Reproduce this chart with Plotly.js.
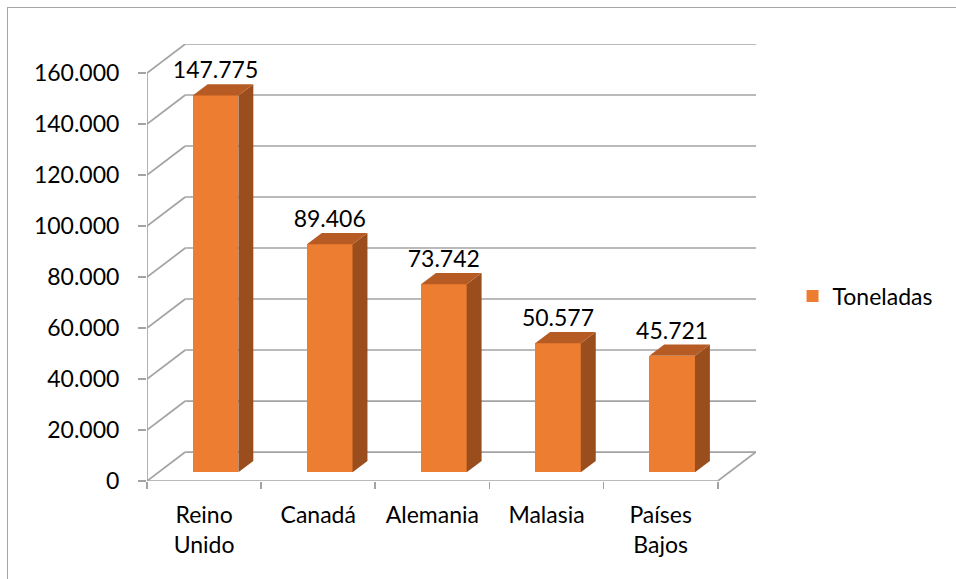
<!DOCTYPE html>
<html><head><meta charset="utf-8">
<script src="https://cdn.plot.ly/plotly-3.0.1.min.js"></script>
<style>
html,body{margin:0;padding:0;background:#fff;overflow:hidden;}
#chart{width:956px;height:579px;}
#frame{position:absolute;left:7px;top:7px;width:1000px;height:700px;border:1px solid #a6a6a6;pointer-events:none;}
</style></head>
<body>
<div id="chart"></div>
<div id="frame"></div>
<script>
// ---- data ----
const categories = ['Reino<br>Unido', 'Canadá', 'Alemania', 'Malasia', 'Países<br>Bajos'];
const toneladas = [147775, 89406, 73742, 50577, 45721];
const seriesName = 'Toneladas';
const yTicks = [0, 20000, 40000, 60000, 80000, 100000, 120000, 140000, 160000];

// ---- pseudo-3D geometry (style constants) ----
const yMax = 160000;
const pxPerUnitX = 114.2, frontHeightPx = 408.5;
const dxu = 38.3 / pxPerUnitX;             // depth offset in x units
const dyu = 29 * yMax / frontHeightPx;     // depth offset in y units
const f1 = 0.30, f2 = 0.69;                 // bar front/back depth fraction
const barW = 0.40;
const cFront = '#ED7D31', cSide = '#9A4E1E', cTop = '#B75B24';
const gridC = '#a3a3a3';

const n = categories.length;
const idx = categories.map((c, i) => i);
const xFront = idx.map(i => i + f1 * dxu);
const baseY = f1 * dyu;
const ddx = (f2 - f1) * dxu, ddy = (f2 - f1) * dyu;

const sideX = [], sideY = [], topX = [], topY = [];
toneladas.forEach((v, i) => {
  const x0 = xFront[i] - barW / 2, x1 = xFront[i] + barW / 2;
  const t = baseY + v;
  sideX.push(x1, x1 + ddx, x1 + ddx, x1, x1, null);
  sideY.push(baseY, baseY + ddy, t + ddy, t, baseY, null);
  topX.push(x0, x1, x1 + ddx, x0 + ddx, x0, null);
  topY.push(t, t, t + ddy, t + ddy, t, null);
});
const fmt = v => String(v).replace(/\B(?=(\d{3})+(?!\d))/g, '.');

const font = 'Lato, "Noto Sans", sans-serif';
const fs = 23;
const traces = [
  { type: 'bar', x: xFront, y: toneladas, base: toneladas.map(() => baseY), width: barW,
    marker: { color: cFront, line: { width: 0 } }, name: seriesName, showlegend: true, hoverinfo: 'skip' },
  { type: 'scatter', x: sideX, y: sideY, mode: 'lines', fill: 'toself', fillcolor: cSide,
    line: { width: 0, color: cSide }, showlegend: false, hoverinfo: 'skip' },
  { type: 'scatter', x: topX, y: topY, mode: 'lines', fill: 'toself', fillcolor: cTop,
    line: { width: 0, color: cTop }, showlegend: false, hoverinfo: 'skip' },
  { type: 'scatter', x: xFront, y: toneladas.map(v => v + baseY + ddy), mode: 'text',
    text: toneladas.map(fmt), textposition: 'top center',
    textfont: { family: font, size: fs, color: '#000' }, showlegend: false, hoverinfo: 'skip', cliponaxis: false },
  { type: 'scatter', x: [-0.5, n - 0.5], y: [0, 0], xaxis: 'x2', mode: 'none', showlegend: false, hoverinfo: 'skip' }
];

const xR = [-0.5, n - 0.5 + dxu];
const shapes = [];
yTicks.forEach(v => {
  shapes.push({ type: 'line', xref: 'x', yref: 'y', x0: -0.5, y0: v, x1: -0.5 + dxu, y1: v + dyu,
    line: { color: gridC, width: 1.7 }, layer: 'below' });
  shapes.push({ type: 'line', xref: 'x', yref: 'y', x0: -0.5 + dxu, y0: v + dyu, x1: xR[1], y1: v + dyu,
    line: { color: gridC, width: 1.7 }, layer: 'below' });
});
// front axes and floor edges
shapes.push({ type: 'line', xref: 'x', yref: 'y', x0: -0.5, y0: 0, x1: -0.5, y1: yMax, line: { color: gridC, width: 1.7 }, layer: 'below' });
shapes.push({ type: 'line', xref: 'x', yref: 'y', x0: -0.5, y0: 0, x1: n - 0.5, y1: 0, line: { color: gridC, width: 1.7 }, layer: 'below' });
shapes.push({ type: 'line', xref: 'x', yref: 'y', x0: n - 0.5, y0: 0, x1: xR[1], y1: dyu, line: { color: gridC, width: 1.7 }, layer: 'below' });

const plotW = (xR[1] - xR[0]) * pxPerUnitX;
const plotH = frontHeightPx + 29;
const L = 147, B = 98;
const layout = {
  width: 956, height: 579,
  margin: { l: L, r: 956 - L - plotW, t: 579 - B - plotH, b: B },
  paper_bgcolor: '#fff', plot_bgcolor: 'rgba(0,0,0,0)',
  separators: ',.',
  font: { family: font, size: fs, color: '#000' },
  showlegend: true,
  legend: { x: 1.06, y: 0.423, xanchor: 'left', yanchor: 'middle', font: { family: font, size: fs, color: '#000' },
    bgcolor: 'rgba(0,0,0,0)' },
  xaxis: { range: xR, tickvals: idx, ticktext: categories, ticks: '', showgrid: false, zeroline: false,
    showline: false, fixedrange: true, tickfont: { family: font, size: fs }, ticklabelstandoff: 18 },
  xaxis2: { range: xR, overlaying: 'x', anchor: 'y', side: 'bottom', tickvals: idx.concat([n]).map(i => i - 0.5),
    ticks: 'outside', ticklen: 7, tickwidth: 1.7, tickcolor: gridC, showticklabels: false, showgrid: false,
    zeroline: false, showline: false },
  yaxis: { range: [0, yMax + dyu], tickvals: yTicks, tickformat: ',d', ticks: 'outside', ticklen: 8,
    tickwidth: 1.7, tickcolor: gridC, showgrid: false, zeroline: false, showline: false, fixedrange: true,
    tickfont: { family: font, size: fs }, ticklabelstandoff: 14 },
  shapes: shapes,
  bargap: 0
};
Plotly.newPlot('chart', traces, layout, { displayModeBar: false, staticPlot: true });
</script>
</body></html>
